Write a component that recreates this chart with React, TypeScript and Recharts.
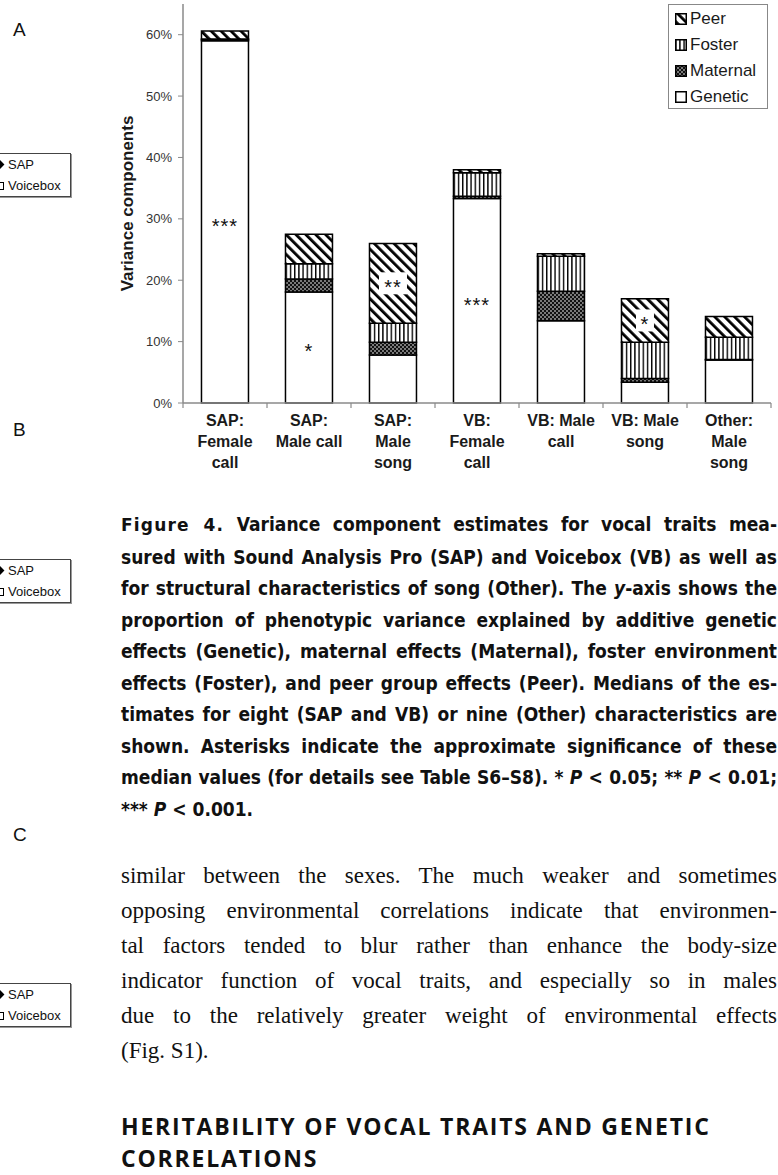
import React from "react";
import { BarChart, Bar, XAxis, YAxis, Legend, LabelList } from "recharts";

const categories = [
  "SAP:\nFemale\ncall",
  "SAP:\nMale call",
  "SAP:\nMale\nsong",
  "VB:\nFemale\ncall",
  "VB: Male\ncall",
  "VB: Male\nsong",
  "Other:\nMale\nsong",
];
const genetic = [59.0, 18.1, 7.8, 33.3, 13.4, 3.4, 7.0];
const maternal = [0.2, 2.1, 2.1, 0.4, 4.8, 0.6, 0.1];
const foster = [0.1, 2.5, 3.1, 3.8, 5.7, 5.9, 3.6];
const peer = [1.3, 4.8, 13.0, 0.5, 0.4, 7.1, 3.4];
const geneticStars = ["***", "*", "", "***", "", "", ""];
const peerStars = ["", "", "**", "", "", "*", ""];
const yTicks = [0, 10, 20, 30, 40, 50, 60];
const legendOrder = ["Peer", "Foster", "Maternal", "Genetic"];

const data = categories.map((name, i) => ({
  name,
  genetic: genetic[i],
  maternal: maternal[i],
  foster: foster[i],
  peer: peer[i],
  geneticStar: geneticStars[i],
  peerStar: peerStars[i],
}));

const AXIS = "#8a8a8a";
const SANS = "'Liberation Sans', Arial, Helvetica, sans-serif";
const NARROW =
  "'Liberation Sans Narrow', 'DejaVu Sans Condensed', 'Arial Narrow', sans-serif";
const SERIF = "'Liberation Serif', 'Times New Roman', serif";

function CategoryTick(props: any) {
  const { x, y, payload, index } = props;
  const half = payload?.offset ?? 0;
  const lines = String(payload.value).split("\n");
  return (
    <g>
      <line x1={x - half} x2={x - half} y1={y} y2={y + 5} stroke={AXIS} strokeWidth={1.2} />
      {index === categories.length - 1 && (
        <line x1={x + half} x2={x + half} y1={y} y2={y + 5} stroke={AXIS} strokeWidth={1.2} />
      )}
      <text x={x} y={y} textAnchor="middle" fontSize={16} fontWeight="bold" fill="#1a1a1a" fontFamily={SANS}>
        {lines.map((l, i) => (
          <tspan key={i} x={x} dy={i === 0 ? 23 : 21}>
            {l}
          </tspan>
        ))}
      </text>
    </g>
  );
}

function StarLabel(props: any) {
  const { x, y, width, height, value, boxed } = props;
  if (!value) return null;
  const cx = Number(x) + Number(width) / 2;
  const cy = Number(y) + Number(height) / 2;
  const w = String(value).length * 10 + 8;
  return (
    <g>
      {boxed && <rect x={cx - w / 2} y={cy - 11} width={w} height={22} fill="#fff" />}
      <text x={cx} y={cy + 11} textAnchor="middle" fontSize={20} fill="#111" letterSpacing={1} fontFamily={SANS}>
        {value}
      </text>
    </g>
  );
}

function YLabel(props: any) {
  const vb = props.viewBox || {};
  const cx = vb.x - 6;
  const cy = vb.y + vb.height / 2;
  return (
    <text
      transform={`translate(${cx},${cy}) rotate(-90)`}
      textAnchor="middle"
      dominantBaseline="central"
      fontSize={17}
      fontWeight="bold"
      fill="#1a1a1a"
      fontFamily={SANS}
    >
      Variance components
    </text>
  );
}

function LegendBox({ payload }: any) {
  const items = [...(payload ?? [])].sort(
    (a: any, b: any) => legendOrder.indexOf(a.value) - legendOrder.indexOf(b.value)
  );
  return (
    <div
      style={{
        width: 100,
        height: 105,
        border: "1px solid #888",
        background: "#fff",
        padding: "1px 0 0 6px",
        boxSizing: "border-box",
        fontFamily: SANS,
      }}
    >
      {items.map((it: any) => (
        <div key={it.value} style={{ display: "flex", alignItems: "center", height: 26, fontSize: 17, color: "#1a1a1a" }}>
          <svg width={12} height={12} style={{ marginRight: 3, flex: "none" }}>
            <rect x={0.75} y={0.75} width={10.5} height={10.5} fill={it.color} stroke="#000" strokeWidth={1.5} />
          </svg>
          <span>{it.value}</span>
        </div>
      ))}
    </div>
  );
}

function SideBox({ top }: { top: number }) {
  return (
    <div
      style={{
        position: "absolute",
        left: -12,
        top,
        width: 83,
        height: 44,
        border: "1px solid #444",
        boxShadow: "1px 1px 0 #999",
        boxSizing: "border-box",
        background: "#fff",
        fontFamily: SANS,
        fontSize: 13,
        color: "#111",
      }}
    >
      <div style={{ height: 21, lineHeight: "21px", paddingLeft: 7, display: "flex", alignItems: "center" }}>
        <span style={{ display: "inline-block", width: 7, height: 7, background: "#000", transform: "rotate(45deg)", marginRight: 5 }} />
        SAP
      </div>
      <div style={{ height: 21, lineHeight: "21px", paddingLeft: 7, display: "flex", alignItems: "center" }}>
        <span style={{ display: "inline-block", width: 6, height: 6, border: "1px solid #000", marginRight: 4 }} />
        Voicebox
      </div>
    </div>
  );
}

function PanelLetter({ top, children }: { top: number; children: React.ReactNode }) {
  return (
    <div style={{ position: "absolute", left: 13, top, fontFamily: SANS, fontSize: 19, lineHeight: "20px", color: "#111" }}>
      {children}
    </div>
  );
}

const justLine: React.CSSProperties = {
  textAlign: "justify",
  textAlignLast: "justify",
  whiteSpace: "nowrap",
};

export default function App() {
  return (
    <div style={{ position: "absolute", left: 0, top: 0, width: 778, height: 1175, overflow: "hidden", background: "#fff" }}>
      <PanelLetter top={20}>A</PanelLetter>
      <SideBox top={153} />
      <PanelLetter top={420}>B</PanelLetter>
      <SideBox top={559} />
      <PanelLetter top={825}>C</PanelLetter>
      <SideBox top={983} />

      <div style={{ position: "absolute", left: 0, top: 0 }}>
        <BarChart
          width={778}
          height={480}
          data={data}
          margin={{ top: 4, right: 7, left: 133, bottom: 0 }}
          barCategoryGap="22%"
          style={{ fontFamily: SANS }}
        >
          <defs>
            <pattern id="peerHatch" patternUnits="userSpaceOnUse" width={7} height={7} patternTransform="rotate(-45)">
              <rect width={7} height={7} fill="#fff" />
              <rect x={0} y={0} width={2.8} height={7} fill="#000" />
            </pattern>
            <pattern id="fosterLines" patternUnits="userSpaceOnUse" width={4.2} height={4}>
              <rect width={4.2} height={4} fill="#fff" />
              <rect x={0} y={0} width={1.4} height={4} fill="#000" />
            </pattern>
            <pattern id="maternalDots" patternUnits="userSpaceOnUse" width={4} height={4}>
              <rect width={4} height={4} fill="#111" />
              <circle cx={1} cy={1} r={0.8} fill="#fff" />
              <circle cx={3} cy={3} r={0.8} fill="#fff" />
            </pattern>
          </defs>
          <XAxis
            dataKey="name"
            interval={0}
            height={77}
            tickSize={0}
            tickMargin={0}
            tickLine={false}
            axisLine={{ stroke: AXIS, strokeWidth: 1.5 }}
            tick={<CategoryTick />}
          />
          <YAxis
            width={50}
            domain={[0, 65]}
            ticks={yTicks}
            tickFormatter={(v) => `${v}%`}
            tickSize={5}
            tickMargin={6}
            axisLine={{ stroke: AXIS, strokeWidth: 1.5 }}
            tickLine={{ stroke: AXIS }}
            tick={{ fontSize: 13, fill: "#333" }}
            label={{ content: <YLabel /> }}
          />
          <Legend
            layout="vertical"
            align="center"
            verticalAlign="middle"
            content={<LegendBox />}
            wrapperStyle={{ position: "absolute", top: 4, left: 668, width: 100 }}
          />
          <Bar dataKey="genetic" name="Genetic" stackId="v" fill="#fff" stroke="#000" strokeWidth={1.5} isAnimationActive={false}>
            <LabelList dataKey="geneticStar" content={<StarLabel />} />
          </Bar>
          <Bar dataKey="maternal" name="Maternal" stackId="v" fill="url(#maternalDots)" stroke="#000" strokeWidth={1.5} isAnimationActive={false} />
          <Bar dataKey="foster" name="Foster" stackId="v" fill="url(#fosterLines)" stroke="#000" strokeWidth={1.5} isAnimationActive={false} />
          <Bar dataKey="peer" name="Peer" stackId="v" fill="url(#peerHatch)" stroke="#000" strokeWidth={1.5} isAnimationActive={false}>
            <LabelList dataKey="peerStar" content={<StarLabel boxed />} />
          </Bar>
        </BarChart>
      </div>

      <div
        style={{
          position: "absolute",
          left: 121,
          top: 509,
          width: 656,
          fontFamily: NARROW,
          fontWeight: "bold",
          fontSize: 19,
          lineHeight: "31.5px",
          color: "#111",
        }}
      >
        <div style={justLine}>
          <span style={{ fontFamily: "'DejaVu Sans', sans-serif", fontWeight: 900, fontSize: 17, letterSpacing: 1.2 }}>Figure 4.</span>{" "}
          Variance component estimates for vocal traits mea-
        </div>
        <div style={justLine}>sured with Sound Analysis Pro (SAP) and Voicebox (VB) as well as</div>
        <div style={justLine}>
          for structural characteristics of song (Other). The <i>y</i>-axis shows the
        </div>
        <div style={justLine}>proportion of phenotypic variance explained by additive genetic</div>
        <div style={justLine}>effects (Genetic), maternal effects (Maternal), foster environment</div>
        <div style={justLine}>effects (Foster), and peer group effects (Peer). Medians of the es-</div>
        <div style={justLine}>timates for eight (SAP and VB) or nine (Other) characteristics are</div>
        <div style={justLine}>shown. Asterisks indicate the approximate significance of these</div>
        <div style={justLine}>
          median values (for details see Table S6–S8). * <i>P</i> &lt; 0.05; ** <i>P</i> &lt; 0.01;
        </div>
        <div style={{ whiteSpace: "nowrap" }}>
          *** <i>P</i> &lt; 0.001.
        </div>
      </div>

      <div
        style={{
          position: "absolute",
          left: 121,
          top: 858,
          width: 656,
          fontFamily: SERIF,
          fontSize: 23,
          lineHeight: "35px",
          color: "#111",
        }}
      >
        <div style={justLine}>similar between the sexes. The much weaker and sometimes</div>
        <div style={justLine}>opposing environmental correlations indicate that environmen-</div>
        <div style={justLine}>tal factors tended to blur rather than enhance the body-size</div>
        <div style={justLine}>indicator function of vocal traits, and especially so in males</div>
        <div style={justLine}>due to the relatively greater weight of environmental effects</div>
        <div style={{ whiteSpace: "nowrap" }}>(Fig. S1).</div>
      </div>

      <div
        style={{
          position: "absolute",
          left: 121,
          top: 1110,
          width: 656,
          fontFamily: "'Open Sans', 'DejaVu Sans', sans-serif",
          fontWeight: 700,
          fontSize: 23,
          letterSpacing: 1.8,
          lineHeight: "32px",
          color: "#111",
        }}
      >
        <div style={{ whiteSpace: "nowrap" }}>HERITABILITY OF VOCAL TRAITS AND GENETIC</div>
        <div style={{ whiteSpace: "nowrap" }}>CORRELATIONS</div>
      </div>
    </div>
  );
}
